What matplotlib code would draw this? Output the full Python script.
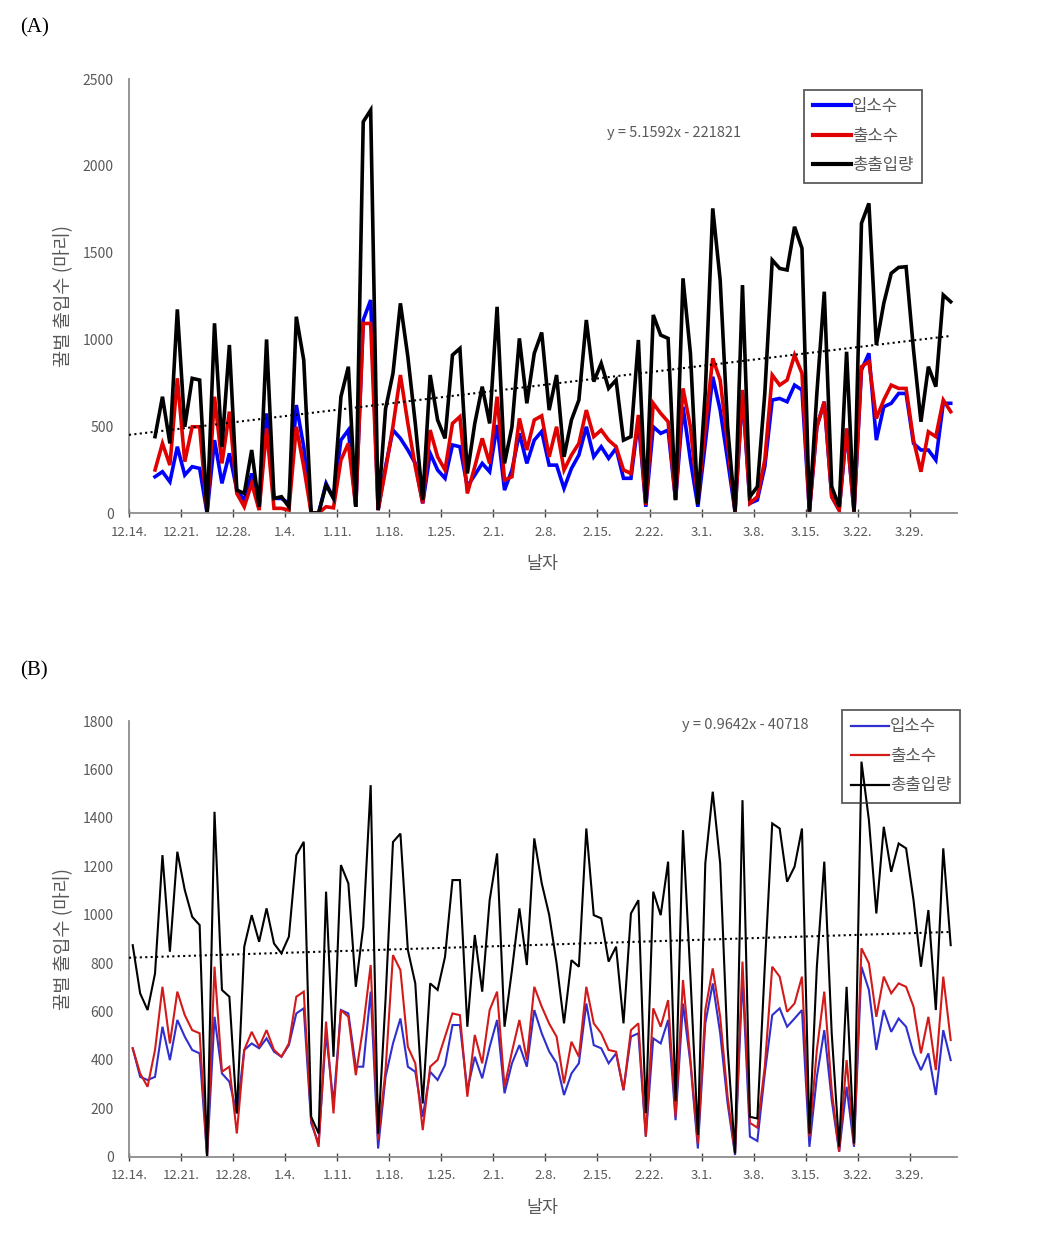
import numpy as np
import pandas as pd
import matplotlib
matplotlib.use("Agg")
import matplotlib.pyplot as plt

plt.rcParams['font.family'] = ['Noto Sans CJK KR', 'DejaVu Sans']

# daily counts, panel (A) starts 12.17, panel (B) starts 12.14
start = pd.Timestamp("2017-12-14")
dates_a = pd.date_range("2017-12-17", "2018-04-03")
dates_b = pd.date_range("2017-12-14", "2018-04-03")

a_in = [209, 238, 180, 382, 219, 267, 257, 0, 420, 171, 344, 132, 75, 228, 27, 574, 84, 84, 56, 622,
        382, 0, 0, 171, 85, 420, 478, 36, 1112, 1227, 17, 267, 478, 430, 363, 286, 56, 344, 248, 200,
        392, 382, 152, 219, 286, 238, 507, 132, 248, 459, 286, 420, 470, 276, 276, 142, 257, 334, 497, 324,
        382, 315, 373, 200, 200, 536, 36, 497, 459, 478, 75, 612, 305, 36, 401, 785, 593, 305, 8, 689,
        56, 75, 267, 651, 660, 641, 737, 709, 8, 497, 641, 94, 17, 478, 8, 824, 920, 420, 612, 632,
        689, 689, 401, 363, 363, 305, 632, 632]
a_out = [248, 401, 276, 776, 296, 497, 497, 0, 670, 286, 584, 113, 36, 171, 17, 488, 27, 27, 17, 497,
         267, 0, 0, 36, 30, 305, 401, 36, 1092, 1092, 17, 250, 500, 795, 516, 267, 56, 478, 324, 248,
         516, 555, 113, 267, 430, 286, 670, 190, 209, 545, 363, 536, 560, 324, 497, 248, 334, 401, 593, 440,
         478, 420, 382, 248, 228, 565, 46, 632, 574, 526, 75, 718, 497, 75, 497, 891, 766, 401, 8, 709,
         56, 94, 305, 795, 737, 766, 910, 805, 8, 497, 641, 94, 17, 488, 8, 843, 872, 545, 651, 737,
         718, 718, 420, 238, 468, 440, 651, 584]
a_total = [440, 670, 401, 1173, 497, 776, 766, 0, 1093, 380, 968, 132, 113, 363, 36, 1000, 84, 94, 36, 1131,
           881, 0, 0, 161, 85, 670, 843, 36, 2254, 2321, 17, 600, 805, 1208, 900, 516, 75, 795, 536, 430,
           910, 948, 228, 516, 728, 516, 1188, 286, 497, 1006, 632, 920, 1040, 593, 795, 324, 536, 651, 1112, 757,
           862, 718, 766, 420, 440, 997, 56, 1141, 1025, 1006, 75, 1352, 920, 50, 700, 1755, 1342, 497, 8, 1313,
           94, 152, 689, 1457, 1409, 1400, 1649, 1525, 8, 689, 1275, 152, 36, 929, 8, 1669, 1784, 968, 1208, 1381,
           1415, 1419, 939, 526, 843, 728, 1256, 1217]

b_in = [448, 330, 317, 330, 537, 399, 565, 496, 441, 427, 0, 578, 344, 310, 179, 441, 468, 448, 489, 434,
        413, 461, 592, 613, 138, 55, 510, 220, 606, 592, 372, 372, 682, 34, 330, 468, 571, 372, 351, 165,
        351, 317, 379, 544, 544, 275, 413, 324, 454, 565, 262, 386, 461, 372, 606, 510, 435, 386, 255, 344,
        386, 633, 461, 448, 386, 427, 275, 496, 510, 83, 489, 468, 565, 151, 633, 386, 34, 551, 716, 510,
        220, 7, 744, 83, 65, 344, 585, 613, 537, 571, 606, 41, 330, 523, 234, 21, 289, 41, 785, 689,
        441, 606, 516, 571, 537, 427, 358, 427, 255, 523, 399]
b_out = [448, 344, 289, 441, 702, 468, 682, 585, 523, 510, 0, 785, 351, 372, 96, 441, 516, 454, 523, 441,
         413, 468, 661, 682, 151, 41, 558, 179, 606, 578, 337, 537, 792, 69, 358, 833, 771, 454, 386, 110,
         372, 400, 496, 592, 585, 248, 503, 386, 606, 682, 289, 434, 565, 400, 702, 620, 550, 496, 303, 475,
         413, 702, 551, 510, 441, 434, 275, 523, 551, 83, 613, 537, 647, 165, 730, 400, 55, 606, 778, 578,
         248, 14, 806, 140, 120, 372, 785, 744, 599, 633, 744, 83, 441, 682, 275, 21, 399, 48, 861, 799,
         578, 744, 675, 716, 702, 620, 427, 578, 358, 744, 482]
b_total = [874, 675, 606, 757, 1246, 847, 1260, 1102, 991, 957, 0, 1425, 689, 661, 179, 868, 998, 888, 1026, 881,
           840, 909, 1246, 1301, 165, 96, 1095, 413, 1205, 1129, 702, 950, 1535, 95, 650, 1300, 1335, 854, 716, 220,
           716, 689, 826, 1143, 1143, 537, 916, 682, 1060, 1253, 537, 771, 1026, 792, 1315, 1130, 1000, 800, 551, 812,
           785, 1356, 998, 985, 806, 868, 551, 1005, 1060, 180, 1095, 998, 1219, 230, 1349, 744, 90, 1212, 1508, 1212,
           450, 14, 1473, 165, 158, 785, 1377, 1356, 1136, 1198, 1356, 96, 785, 1219, 509, 41, 702, 55, 1632, 1391,
           1005, 1363, 1177, 1294, 1274, 1060, 785, 1019, 606, 1274, 874]

tick_labels = ["12.14.", "12.21.", "12.28.", "1.4.", "1.11.", "1.18.", "1.25.", "2.1.",
               "2.8.", "2.15.", "2.22.", "3.1.", "3.8.", "3.15.", "3.22.", "3.29."]
series_names = ["입소수", "출소수", "총출입량"]

# linear trend equations printed on the charts (x = Excel date serial)
trend_a = (5.1592, -221821)
trend_b = (0.9642, -40718)

GRAY = "#595959"
AXIS = "#8c8c8c"


def pos(dates):
    # Excel date axis "between tick marks": each day sits in the middle of its slot
    return np.array([(d - start).days for d in dates]) + 0.5


def draw(ax, dates, series, colors, lw, trend, ymax, ystep, eq_xy, leg_anchor, leg_lw):
    x = pos(dates)
    lines = []
    for vals, c, name in zip(series, colors, series_names):
        ln, = ax.plot(x, vals, color=c, lw=lw, label=name, solid_joinstyle='miter')
        lines.append(ln)
    # trend line across the whole date axis
    tx = np.array([0.0, x[-1]])
    serial = (start - pd.Timestamp("1899-12-30")).days + tx - 0.5
    ax.plot(tx, trend[0] * serial + trend[1], color="black", lw=1.5,
            linestyle=(0, (1, 1.6)), zorder=5)
    ax.text(eq_xy[0], eq_xy[1], f"y = {trend[0]}x - {-trend[1]}", transform=ax.transAxes,
            fontsize=10.5, color=GRAY, va="center", ha="left")

    ax.set_xlim(0, 111.3)
    ax.set_ylim(0, ymax)
    ax.set_yticks(np.arange(0, ymax + 1, ystep))
    ax.set_xticks(np.arange(0, 106, 7))
    ax.set_xticklabels(tick_labels)
    for s in ("top", "right"):
        ax.spines[s].set_visible(False)
    for s in ("left", "bottom"):
        ax.spines[s].set_color(AXIS)
        ax.spines[s].set_linewidth(1.3)
    ax.tick_params(axis="y", length=0, pad=11, labelsize=10, labelcolor=GRAY)
    ax.tick_params(axis="x", length=6, direction="inout", color="#404040", width=1,
                   pad=6, labelsize=9.5, labelcolor=GRAY)
    ax.set_ylabel("꿀벌 출입수 (마리)", fontsize=13.5, color=GRAY, labelpad=6)
    ax.set_xlabel("날자", fontsize=12.5, color=GRAY, labelpad=12)

    handles = []
    for ln in lines:
        h, = ax.plot([], [], color=ln.get_color(), lw=leg_lw, label=ln.get_label())
        handles.append(h)
    leg = ax.legend(handles=handles, loc="upper left", bbox_to_anchor=leg_anchor,
                    fontsize=12, handlelength=2.3, handletextpad=0.05, labelspacing=0.75,
                    borderpad=0.5, borderaxespad=0, fancybox=False, edgecolor="#333333")
    frame = leg.get_frame()
    frame.set_facecolor("none")
    frame.set_linewidth(1.3)
    for t in leg.get_texts():
        t.set_color(GRAY)


fig = plt.figure(figsize=(10.53, 12.41), dpi=100)
ax_a = fig.add_axes([0.1225, 0.5866, 0.786, 0.3497])
ax_b = fig.add_axes([0.1225, 0.0679, 0.786, 0.3511])

draw(ax_a, dates_a, [a_in, a_out, a_total], ["#0000ff", "#e00000", "#000000"], 2.6,
     trend_a, 2500, 500, (0.578, 0.875), (0.816, 0.975), 3.0)
draw(ax_b, dates_b, [b_in, b_out, b_total], ["#2f2fd0", "#d21a1a", "#000000"], 1.5,
     trend_b, 1800, 200, (0.668, 0.992), (0.862, 1.025), 1.6)

for lbl, y in (("(A)", 28), ("(B)", 671)):
    fig.text(20 / 1053, 1 - y / 1241, lbl, fontsize=15, family="Liberation Serif",
             va="center", ha="left", color="black")

fig.savefig("out.png", dpi=100)
